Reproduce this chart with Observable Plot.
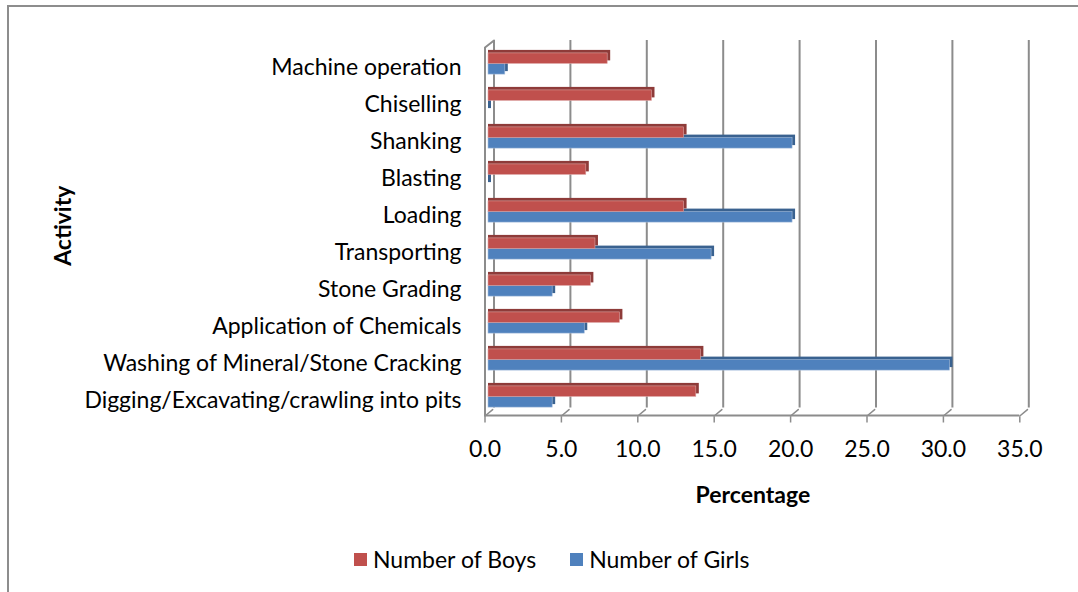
<!DOCTYPE html>
<html>
<head>
<meta charset="utf-8">
<script src="https://cdn.jsdelivr.net/npm/d3@7"></script>
<script src="https://cdn.jsdelivr.net/npm/@observablehq/plot@0.6"></script>
<style>
  html, body { margin: 0; padding: 0; background: #fff; overflow: hidden; }
  #wrap { position: relative; width: 1078px; height: 592px; overflow: hidden; font-family: Lato, "Open Sans", sans-serif; }
  #border { position: absolute; left: 7px; top: 5px; width: 1100px; height: 640px; border: 2px solid #8d8d8d; box-sizing: border-box; }
  #chart { position: absolute; left: 0; top: 0; }
  #legend { position: absolute; left: 354px; top: 545px; display: flex; align-items: center; font-size: 23px; color: #000; line-height: 28px; }
  .sw { display: inline-block; width: 13px; height: 13px; margin-right: 6px; }
</style>
</head>
<body>
<div id="wrap">
  <div id="border"></div>
  <div id="chart"></div>
  <div id="legend"></div>
</div>
<script>
const categories = [
  "Machine operation",
  "Chiselling",
  "Shanking",
  "Blasting",
  "Loading",
  "Transporting",
  "Stone Grading",
  "Application of Chemicals",
  "Washing of Mineral/Stone Cracking",
  "Digging/Excavating/crawling into pits"
];
const boys  = [7.8, 10.7, 12.8, 6.4, 12.8, 7.0, 6.7, 8.6, 13.9, 13.6];
const girls = [1.1, 0.0, 19.9, 0.0, 19.9, 14.6, 4.2, 6.3, 30.2, 4.2];
const xTicks = [0, 5, 10, 15, 20, 25, 30, 35];
const seriesNames = ["Number of Boys", "Number of Girls"];
const seriesColors = ["#C0504D", "#4F81BD"];
const seriesDark = ["#8E3B39", "#3A6290"];

const boysData = categories.map((c, i) => ({activity: c, value: boys[i]}));
const girlsData = categories.map((c, i) => ({activity: c, value: girls[i]}));

const gridStroke = "#8c8c8c";
const lineShape = {draw(ctx, l) { ctx.moveTo(0, 0); ctx.lineTo(0, -l); }};

const chart = Plot.plot({
  width: 1078,
  height: 520,
  marginLeft: 488,
  marginRight: 55.2,
  marginTop: 44,
  marginBottom: 103.5,
  style: {fontFamily: "Lato, 'Open Sans', sans-serif", fontSize: "23px", color: "#000", background: "transparent"},
  x: {domain: [0, 35]},
  y: {domain: categories, padding: 0, axis: null},
  marks: [
    // back wall gridlines
    Plot.ruleX(xTicks, {x: d => d, dx: 5.5, insetTop: -4, insetBottom: 9, stroke: gridStroke, strokeWidth: 2}),
    // floor slants
    Plot.vector(xTicks, {x: d => d, frameAnchor: "bottom", anchor: "start", dx: -3.5, dy: -1, rotate: 50, length: 10,
      stroke: gridStroke, strokeWidth: 1.5, shape: lineShape}),
    // left wall top slant
    Plot.vector([0], {x: d => d, frameAnchor: "top", anchor: "start", dx: -3.5, dy: 3, rotate: 52, length: 11.4,
      stroke: gridStroke, strokeWidth: 2, shape: lineShape}),
    // front left wall line
    Plot.ruleX([0], {dx: -3.5, insetTop: 3, insetBottom: 0, stroke: gridStroke, strokeWidth: 2}),
    // front floor line
    Plot.ruleY([categories[categories.length - 1]], {x1: 0, x2: 35, dx: -3.5, dy: 18.6, stroke: gridStroke, strokeWidth: 2}),
    // girls bars (3D side/top then face)
    Plot.barX(girlsData, {y: "activity", x1: 0, x2: "value", dy: -3, insetTop: 18.6, insetBottom: 7.9, insetRight: -3, fill: seriesDark[1]}),
    Plot.barX(girlsData, {y: "activity", x1: 0, x2: "value", insetTop: 18.6, insetBottom: 7.9, fill: seriesColors[1], stroke: "#a7bfdd", strokeWidth: 0.6}),
    // boys bars
    Plot.barX(boysData, {y: "activity", x1: 0, x2: "value", dy: -3, insetTop: 7.9, insetBottom: 18.6, insetRight: -3, fill: seriesDark[0]}),
    Plot.barX(boysData, {y: "activity", x1: 0, x2: "value", insetTop: 7.9, insetBottom: 18.6, fill: seriesColors[0], stroke: "#dca3a2", strokeWidth: 0.6}),
    // axes
    Plot.axisY({tickSize: 0, tickPadding: 27, dy: 4, fontSize: 23, fill: "#000", label: null}),
    Plot.axisX({ticks: xTicks, tickFormat: d => d.toFixed(1), tickSize: 6, tickPadding: 18, dx: -3.5, stroke: gridStroke, strokeWidth: 1.5, fontSize: 23, fill: "#000", label: null}),
    // axis titles
    Plot.text(["Activity"], {frameAnchor: "left", textAnchor: "middle", lineAnchor: "middle", dx: -425, dy: -5, rotate: -90, fontWeight: "bold", fontSize: 23, fill: "#000"}),
    Plot.text(["Percentage"], {frameAnchor: "bottom", textAnchor: "middle", lineAnchor: "middle", dx: -3, dy: 78.5, fontWeight: "bold", fontSize: 23, fill: "#000"})
  ]
});
document.getElementById("chart").appendChild(chart);

const legend = document.getElementById("legend");
seriesNames.forEach((name, i) => {
  const item = document.createElement("span");
  item.style.display = "inline-flex";
  item.style.alignItems = "center";
  item.style.marginRight = i === 0 ? "34px" : "0";
  const sw = document.createElement("span");
  sw.className = "sw";
  sw.style.background = seriesColors[i];
  item.appendChild(sw);
  item.appendChild(document.createTextNode(name));
  legend.appendChild(item);
});
</script>
</body>
</html>
